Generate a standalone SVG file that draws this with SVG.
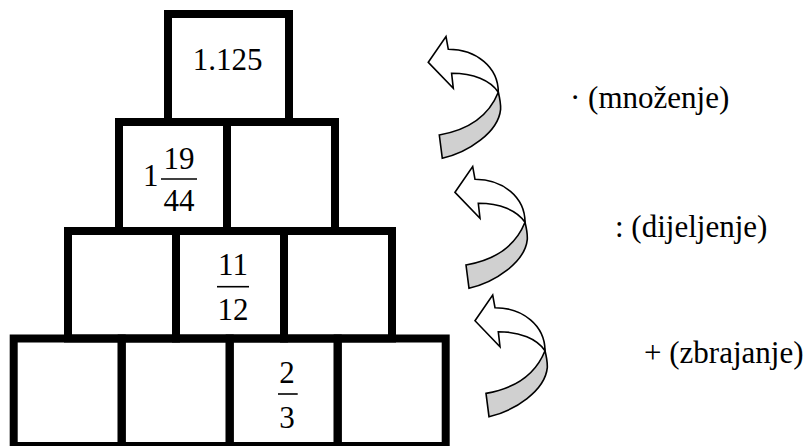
<svg xmlns="http://www.w3.org/2000/svg" xmlns:xlink="http://www.w3.org/1999/xlink" width="809" height="446" viewBox="0 0 809 446">
<style>
.cell{fill:none;stroke:#000;stroke-width:8;stroke-linejoin:miter}
.t{font-size:31px;fill:#000}
.m{text-anchor:middle}
.bar{stroke:#000;stroke-width:1.6}
.head{fill:#fff;stroke:#000;stroke-width:1.6;stroke-linejoin:miter}
.band{fill:#d0d0d0;stroke:#000;stroke-width:1.6;stroke-linejoin:miter}
</style>
<defs>
<g id="curved">
<path class="head" d="M0,0 L17.7,-25.7 L20,-13 C48,-13 70,5 70,30 C62,18 45,11 23.3,11 L25,26 Z"/>
<path class="band" d="M70,30 C71.5,36 72.5,42 72.3,47 C70,70 40,90 14,96 L11,72.7 C38,68 60,55 70,30 Z"/>
</g>
</defs>
<rect width="809" height="446" fill="#fff"/>
<g font-family="'Liberation Serif', 'Times New Roman', 'DejaVu Serif', serif">
<g id="pyramid">
<g id="r1c1"><rect class="cell" x="168" y="14" width="121" height="108"/><text class="t m" x="227.5" y="70">1.125</text></g>
<g id="r2c1"><rect class="cell" x="119" y="122" width="108" height="109"/>
<text class="t" x="143" y="186">1</text><text class="t m" x="179" y="169">19</text><line class="bar" x1="161" y1="179" x2="197" y2="179"/><text class="t m" x="179" y="211">44</text></g>
<g id="r2c2"><rect class="cell" x="227" y="122" width="108" height="109"/></g>
<g id="r3c1"><rect class="cell" x="68" y="231" width="108" height="107.5"/></g>
<g id="r3c2"><rect class="cell" x="176" y="231" width="108" height="107.5"/>
<text class="t m" x="233" y="275">11</text><line class="bar" x1="217" y1="286.7" x2="249" y2="286.7"/><text class="t m" x="233" y="320">12</text></g>
<g id="r3c3"><rect class="cell" x="284" y="231" width="108" height="107.5"/></g>
<g id="r4c1"><rect class="cell" x="13.7" y="338.5" width="108" height="107.5"/></g>
<g id="r4c2"><rect class="cell" x="121.7" y="338.5" width="108" height="107.5"/></g>
<g id="r4c3"><rect class="cell" x="229.7" y="338.5" width="108" height="107.5"/>
<text class="t m" x="287" y="383">2</text><line class="bar" x1="278" y1="394" x2="297.7" y2="394"/><text class="t m" x="287" y="428">3</text></g>
<g id="r4c4"><rect class="cell" x="337.7" y="338.5" width="108" height="107.5"/></g>
</g>
<g id="connectors">
<use xlink:href="#curved" transform="translate(428.3,62.3)"/>
<use xlink:href="#curved" transform="translate(455,192.3)"/>
<use xlink:href="#curved" transform="translate(475,320.7)"/>
</g>
<g id="labels">
<text class="t" x="570" y="108">· (množenje)</text>
<text class="t" x="615" y="237">: (dijeljenje)</text>
<text class="t" x="644" y="363">+ (zbrajanje)</text>
</g>
</g>
</svg>
